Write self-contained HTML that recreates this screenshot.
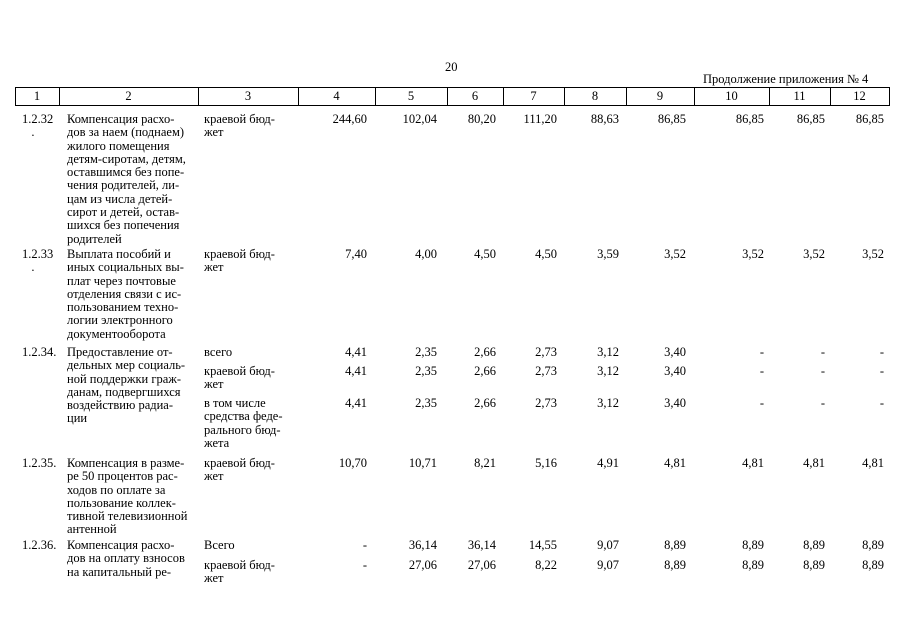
<!DOCTYPE html>
<html><head><meta charset="utf-8"><style>
body{margin:0;background:#fff;width:905px;height:640px;position:relative;overflow:hidden;font-family:"Liberation Serif","DejaVu Serif",serif;font-size:12.5px;color:#000}
.t{position:absolute;line-height:13.3px;white-space:nowrap}
.r{position:absolute;line-height:13.3px;text-align:right;white-space:nowrap}
.hl{position:absolute;background:#000}
.hc{position:absolute;top:88px;height:17px;line-height:17px;text-align:center}
</style></head><body>
<div class="t" style="left:445px;top:61px">20</div>
<div class="t" style="left:703px;top:73px">Продолжение приложения № 4</div>
<div class="hl" style="left:15px;top:87px;width:875px;height:1px"></div>
<div class="hl" style="left:15px;top:105px;width:875px;height:1px"></div>
<div class="hl" style="left:15px;top:87px;width:1px;height:19px"></div>
<div class="hl" style="left:59px;top:87px;width:1px;height:19px"></div>
<div class="hl" style="left:198px;top:87px;width:1px;height:19px"></div>
<div class="hl" style="left:298px;top:87px;width:1px;height:19px"></div>
<div class="hl" style="left:375px;top:87px;width:1px;height:19px"></div>
<div class="hl" style="left:447px;top:87px;width:1px;height:19px"></div>
<div class="hl" style="left:503px;top:87px;width:1px;height:19px"></div>
<div class="hl" style="left:564px;top:87px;width:1px;height:19px"></div>
<div class="hl" style="left:626px;top:87px;width:1px;height:19px"></div>
<div class="hl" style="left:694px;top:87px;width:1px;height:19px"></div>
<div class="hl" style="left:769px;top:87px;width:1px;height:19px"></div>
<div class="hl" style="left:830px;top:87px;width:1px;height:19px"></div>
<div class="hl" style="left:889px;top:87px;width:1px;height:19px"></div>
<div class="hc" style="left:15px;width:44px">1</div>
<div class="hc" style="left:59px;width:139px">2</div>
<div class="hc" style="left:198px;width:100px">3</div>
<div class="hc" style="left:298px;width:77px">4</div>
<div class="hc" style="left:375px;width:72px">5</div>
<div class="hc" style="left:447px;width:56px">6</div>
<div class="hc" style="left:503px;width:61px">7</div>
<div class="hc" style="left:564px;width:62px">8</div>
<div class="hc" style="left:626px;width:68px">9</div>
<div class="hc" style="left:694px;width:75px">10</div>
<div class="hc" style="left:769px;width:61px">11</div>
<div class="hc" style="left:830px;width:59px">12</div>

<div class="t" style="left:22px;top:113px">1.2.32<br>&nbsp;&nbsp;&nbsp;.</div>
<div class="t" style="left:67px;top:113px">Компенсация расхо-<br>дов за наем (поднаем)<br>жилого помещения<br>детям-сиротам, детям,<br>оставшимся без попе-<br>чения родителей, ли-<br>цам из числа детей-<br>сирот и детей, остав-<br>шихся без попечения<br>родителей</div>
<div class="t" style="left:204px;top:113px">краевой бюд-<br>жет</div>
<div class="r" style="right:538px;top:113px">244,60</div>
<div class="r" style="right:468px;top:113px">102,04</div>
<div class="r" style="right:409px;top:113px">80,20</div>
<div class="r" style="right:348px;top:113px">111,20</div>
<div class="r" style="right:286px;top:113px">88,63</div>
<div class="r" style="right:219px;top:113px">86,85</div>
<div class="r" style="right:141px;top:113px">86,85</div>
<div class="r" style="right:80px;top:113px">86,85</div>
<div class="r" style="right:21px;top:113px">86,85</div>

<div class="t" style="left:22px;top:248px">1.2.33<br>&nbsp;&nbsp;&nbsp;.</div>
<div class="t" style="left:67px;top:248px">Выплата пособий и<br>иных социальных вы-<br>плат через почтовые<br>отделения связи с ис-<br>пользованием техно-<br>логии электронного<br>документооборота</div>
<div class="t" style="left:204px;top:248px">краевой бюд-<br>жет</div>
<div class="r" style="right:538px;top:248px">7,40</div>
<div class="r" style="right:468px;top:248px">4,00</div>
<div class="r" style="right:409px;top:248px">4,50</div>
<div class="r" style="right:348px;top:248px">4,50</div>
<div class="r" style="right:286px;top:248px">3,59</div>
<div class="r" style="right:219px;top:248px">3,52</div>
<div class="r" style="right:141px;top:248px">3,52</div>
<div class="r" style="right:80px;top:248px">3,52</div>
<div class="r" style="right:21px;top:248px">3,52</div>

<div class="t" style="left:22px;top:346px">1.2.34.</div>
<div class="t" style="left:67px;top:346px">Предоставление от-<br>дельных мер социаль-<br>ной поддержки граж-<br>данам, подвергшихся<br>воздействию радиа-<br>ции</div>
<div class="t" style="left:204px;top:346px">всего</div>
<div class="t" style="left:204px;top:365px">краевой бюд-<br>жет</div>
<div class="t" style="left:204px;top:397px">в том числе<br>средства феде-<br>рального бюд-<br>жета</div>
<div class="r" style="right:538px;top:346px">4,41<br><span style="display:block;margin-top:5.7px">4,41</span><span style="display:block;margin-top:18.7px">4,41</span></div>
<div class="r" style="right:468px;top:346px">2,35<br><span style="display:block;margin-top:5.7px">2,35</span><span style="display:block;margin-top:18.7px">2,35</span></div>
<div class="r" style="right:409px;top:346px">2,66<br><span style="display:block;margin-top:5.7px">2,66</span><span style="display:block;margin-top:18.7px">2,66</span></div>
<div class="r" style="right:348px;top:346px">2,73<br><span style="display:block;margin-top:5.7px">2,73</span><span style="display:block;margin-top:18.7px">2,73</span></div>
<div class="r" style="right:286px;top:346px">3,12<br><span style="display:block;margin-top:5.7px">3,12</span><span style="display:block;margin-top:18.7px">3,12</span></div>
<div class="r" style="right:219px;top:346px">3,40<br><span style="display:block;margin-top:5.7px">3,40</span><span style="display:block;margin-top:18.7px">3,40</span></div>
<div class="r" style="right:141px;top:346px">-<br><span style="display:block;margin-top:5.7px">-</span><span style="display:block;margin-top:18.7px">-</span></div>
<div class="r" style="right:80px;top:346px">-<br><span style="display:block;margin-top:5.7px">-</span><span style="display:block;margin-top:18.7px">-</span></div>
<div class="r" style="right:21px;top:346px">-<br><span style="display:block;margin-top:5.7px">-</span><span style="display:block;margin-top:18.7px">-</span></div>

<div class="t" style="left:22px;top:457px">1.2.35.</div>
<div class="t" style="left:67px;top:457px">Компенсация в разме-<br>ре 50 процентов рас-<br>ходов по оплате за<br>пользование коллек-<br>тивной телевизионной<br>антенной</div>
<div class="t" style="left:204px;top:457px">краевой бюд-<br>жет</div>
<div class="r" style="right:538px;top:457px">10,70</div>
<div class="r" style="right:468px;top:457px">10,71</div>
<div class="r" style="right:409px;top:457px">8,21</div>
<div class="r" style="right:348px;top:457px">5,16</div>
<div class="r" style="right:286px;top:457px">4,91</div>
<div class="r" style="right:219px;top:457px">4,81</div>
<div class="r" style="right:141px;top:457px">4,81</div>
<div class="r" style="right:80px;top:457px">4,81</div>
<div class="r" style="right:21px;top:457px">4,81</div>

<div class="t" style="left:22px;top:539px">1.2.36.</div>
<div class="t" style="left:67px;top:539px">Компенсация расхо-<br>дов на оплату взносов<br>на капитальный ре-</div>
<div class="t" style="left:204px;top:539px">Всего</div>
<div class="t" style="left:204px;top:559px">краевой бюд-<br>жет</div>
<div class="r" style="right:538px;top:539px">-<br><span style="display:block;margin-top:6.7px">-</span></div>
<div class="r" style="right:468px;top:539px">36,14<br><span style="display:block;margin-top:6.7px">27,06</span></div>
<div class="r" style="right:409px;top:539px">36,14<br><span style="display:block;margin-top:6.7px">27,06</span></div>
<div class="r" style="right:348px;top:539px">14,55<br><span style="display:block;margin-top:6.7px">8,22</span></div>
<div class="r" style="right:286px;top:539px">9,07<br><span style="display:block;margin-top:6.7px">9,07</span></div>
<div class="r" style="right:219px;top:539px">8,89<br><span style="display:block;margin-top:6.7px">8,89</span></div>
<div class="r" style="right:141px;top:539px">8,89<br><span style="display:block;margin-top:6.7px">8,89</span></div>
<div class="r" style="right:80px;top:539px">8,89<br><span style="display:block;margin-top:6.7px">8,89</span></div>
<div class="r" style="right:21px;top:539px">8,89<br><span style="display:block;margin-top:6.7px">8,89</span></div>
</body></html>
